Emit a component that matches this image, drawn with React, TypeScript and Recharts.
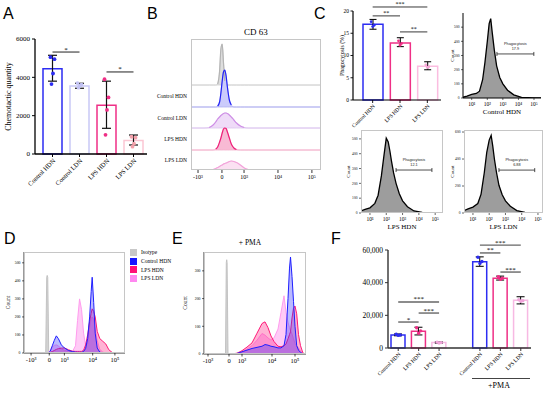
import React from 'react';
import {
  ComposedChart, AreaChart, Area, Bar, Cell, ErrorBar, Line, XAxis, YAxis, ReferenceLine,
} from 'recharts';

const SERIF = '"Liberation Serif", "Times New Roman", Times, serif';
const SANS = '"Liberation Sans", Arial, Helvetica, sans-serif';

/* ---------------- Panel A data ---------------- */
const aCategories = ['Control HDN', 'Control LDN', 'LPS HDN', 'LPS LDN'];
const aMeans = [4450, 3550, 2550, 700];
const aErrLow = [3800, 3430, 1340, 470];
const aErrHigh = [5150, 3690, 3800, 990];
const aPoints1 = [5050, 3700, 3900, 900];
const aPoints2 = [4950, 3620, 2950, 850];
const aPoints3 = [4200, 3560, 2300, 540];
const aPoints4 = [3650, 3460, 1000, 380];
const aYTicks = [0, 2000, 4000, 6000];
const aSigFrom = ['Control HDN', 'LPS HDN'];
const aSigTo = ['Control LDN', 'LPS LDN'];
const aSigY = [5320, 4280];
const aSigText = ['*', '*'];

/* ---------------- Panel B data ---------------- */
const bX = [0, 10, 14, 17, 19, 20.5, 22, 23, 24, 25, 26, 27, 28, 29.5, 31, 33, 35, 38, 41, 44, 50, 70, 100];
const bIsotype = [0, 0, 0, 0, 0, 1, 14, 36, 41, 22, 4, 0, 0, 0, 0, 0, 0, 0, 0, 0, 0, 0, 0];
const bControlHDN = [0, 0, 0, 0, 0, 1, 5, 14, 26, 35, 37, 31, 20, 7, 2, 0, 0, 0, 0, 0, 0, 0, 0];
const bControlLDN = [0, 0, 0.5, 3, 6, 9, 11, 12.5, 13.5, 14.5, 15, 15, 14.5, 13, 11, 8, 5, 2, 0.5, 0, 0, 0, 0];
const bLpsHDN = [0, 0, 0, 0, 1, 3, 8, 12, 17, 21, 22, 21.5, 18, 12, 6, 2, 0.5, 0, 0, 0, 0, 0, 0];
const bLpsLDN = [0, 0, 0, 0.5, 1.5, 2.5, 3.5, 4.5, 5, 6, 6.5, 7, 7.5, 8.5, 9, 8.5, 7.5, 5, 2, 0.5, 0, 0, 0];
const bTicks = [5.4, 23.8, 40.8, 66.9, 93];
const bTickLabels = ['-10³', '0', '10³', '10⁴', '10⁵'];
const bRowLabels = ['Control HDN', 'Control LDN', 'LPS HDN', 'LPS LDN'];
const bRowLabelTicks = [74, 52, 31, 10];

/* ---------------- Panel C data ---------------- */
const cCategories = ['Control HDN', 'LPS HDN', 'LPS LDN'];
const cMeans = [17.0, 12.8, 7.6];
const cErrLow = [15.9, 12.0, 6.8];
const cErrHigh = [18.1, 14.0, 8.6];
const cPoints1 = [17.6, 13.3, 7.9];
const cPoints2 = [16.8, 12.7, 7.5];
const cPoints3 = [16.5, 12.3, 7.3];
const cYTicks = [0, 5, 10, 15, 20];
const cSigFrom = ['Control HDN', 'Control HDN', 'LPS HDN'];
const cSigTo = ['LPS LDN', 'LPS HDN', 'LPS LDN'];
const cSigY = [20.9, 18.9, 15.3];
const cSigText = ['***', '**', '**'];

const hcX = [0.0, 0.4, 0.7, 1.0, 1.3, 1.5, 1.7, 1.85, 2.0, 2.12, 2.22, 2.32, 2.45, 2.6, 2.8, 3.0, 3.3, 3.7, 4.2, 5.0, 5.5];
const hcControlHDN = [0, 4, 14, 26, 32, 48, 129, 251, 398, 525, 560, 460, 340, 227, 145, 100, 55, 22, 4, 0, 0];
const hcLpsHDN = [0, 12, 25, 35, 65, 120, 250, 380, 505, 480, 420, 350, 270, 200, 130, 82, 42, 14, 4, 0, 0];
const hcLpsLDN = [0, 15, 30, 44, 70, 140, 300, 450, 540, 575, 495, 400, 300, 205, 135, 90, 50, 18, 5, 0, 0];
const hcTicks = [1, 2, 3, 4, 5];
const hcTickLabels = ['10¹', '10²', '10³', '10⁴', '10⁵'];

/* ---------------- Panel D data ---------------- */
const dX = [0, 10, 20, 21.5, 22.5, 23, 23.5, 24.5, 26, 28, 30, 32, 34, 37, 40, 44, 48, 51, 53, 55, 57, 59, 61, 63, 65, 66.5, 67.5, 69, 70.5, 72.5, 75, 78, 81, 84, 88, 95, 100];
const dIsotype = [0, 0, 0, 0, 420, 430, 420, 0, 0, 0, 0, 0, 0, 0, 0, 0, 0, 0, 0, 0, 0, 0, 0, 0, 0, 0, 0, 0, 0, 0, 0, 0, 0, 0, 0, 0, 0];
const dControlHDN = [0, 0, 0, 0, 0, 0, 0, 2, 10, 40, 70, 95, 80, 45, 28, 14, 8, 5, 4, 4, 4, 8, 25, 80, 200, 340, 420, 280, 110, 28, 5, 0, 0, 0, 0, 0, 0];
const dLpsHDN = [0, 0, 0, 0, 0, 0, 0, 1, 4, 8, 14, 20, 24, 27, 28, 18, 10, 9, 9, 9, 9, 15, 45, 100, 175, 220, 245, 230, 200, 120, 80, 65, 50, 18, 0, 0, 0];
const dLpsLDN = [0, 0, 0, 0, 0, 0, 0, 5, 15, 35, 42, 45, 40, 22, 15, 9, 9, 40, 180, 300, 240, 110, 40, 50, 140, 190, 200, 185, 130, 70, 20, 5, 0, 0, 0, 0, 0];
const dXTicks = [7, 25, 40, 68, 90];
const dYTicks = [0, 100, 200, 300, 400, 500];
const flowTickLabels = ['-10³', '0', '10³', '10⁴', '10⁵'];
const legendNames = ['Isotype', 'Control HDN', 'LPS HDN', 'LPS LDN'];

/* ---------------- Panel E data ---------------- */
const eX = [0, 10, 21.5, 22.3, 22.7, 23.1, 24, 28, 33, 38, 43, 48, 53, 58, 61, 64, 67, 70, 74, 77, 80, 82, 84, 85.5, 86.5, 88, 89.5, 91, 92.7, 94.5, 96.5, 99, 102];
const eIsotype = [0, 0, 0, 330, 340, 330, 0, 0, 0, 0, 0, 0, 0, 0, 0, 0, 0, 0, 0, 0, 0, 0, 0, 0, 0, 0, 0, 0, 0, 0, 0, 0, 0];
const eControlHDN = [0, 0, 0, 0, 0, 0, 0, 0, 2, 8, 14, 20, 24, 28, 34, 32, 28, 26, 22, 22, 30, 70, 200, 310, 350, 280, 190, 100, 30, 14, 6, 0, 0];
const eLpsHDN = [0, 0, 0, 0, 0, 0, 0, 0, 3, 12, 25, 40, 75, 110, 116, 95, 65, 45, 28, 26, 30, 36, 55, 70, 80, 130, 165, 173, 145, 70, 30, 3, 0];
const eLpsLDN = [0, 0, 0, 0, 0, 0, 0, 0, 1, 7, 18, 30, 50, 74, 68, 58, 50, 58, 90, 150, 210, 150, 115, 95, 85, 72, 55, 38, 30, 22, 12, 0, 0];
const eXTicks = [4, 25, 38, 68, 91];
const eYTicks = [0, 100, 200, 300];

/* ---------------- Panel F data ---------------- */
const fKeys = ['c1', 'l1', 'd1', 'gap', 'c2', 'l2', 'd2'];
const fLabels = ['Control HDN', 'LPS HDN', 'LPS LDN', '', 'Control HDN', 'LPS HDN', 'LPS LDN'];
const fMeans = [8000, 10200, 3300, null, 52800, 42700, 29300];
const fErrLow = [7500, 8000, 3000, null, 50000, 41600, 27000];
const fErrHigh = [8600, 12700, 3700, null, 55800, 44000, 31400];
const fPoints1 = [8400, 12400, 3600, null, 55600, 43600, 29500];
const fPoints2 = [8000, 10500, 3300, null, 53000, 42700, 29000];
const fPoints3 = [7700, 9000, 3100, null, 51800, 42000, 28600];
const fYTicks = [0, 20000, 40000, 60000];
const fTickKeys = ['c1', 'l1', 'd1', 'c2', 'l2', 'd2'];
const fSigFrom = ['c1', 'c1', 'l1', 'c2', 'c2', 'l2'];
const fSigTo = ['d1', 'l1', 'd1', 'd2', 'l2', 'd2'];
const fSigY = [28200, 15900, 21400, 63000, 58200, 46500];
const fSigText = ['***', '*', '***', '***', '**', '***'];

/* ---------------- styles ---------------- */
const BLUE = '#2d2df2';
const PINK = '#ef2f86';
const aBarColors = [BLUE, '#c9c9f6', PINK, '#fbc6d3'];
const aDotColors = [BLUE, '#c2c2f3', PINK, '#f3a0aa'];
const cBarColors = [BLUE, PINK, '#fbbde0'];
const cDotColors = [BLUE, PINK, '#f6a8d6'];
const fBarColors = [BLUE, PINK, '#f7b9e3', '#fff', BLUE, PINK, '#f7b9e3'];
const fDotColors = [BLUE, PINK, '#f1a4da', '#fff', BLUE, PINK, '#f1a4da'];

const flowSeries = [
  { key: 'iso', fill: '#d2d2d2', stroke: '#c2c2c2' },
  { key: 'lldn', fill: 'rgba(255,140,235,0.45)', stroke: '#ff9cee' },
  { key: 'lhdn', fill: 'rgba(255,25,125,0.33)', stroke: '#ff1a78' },
  { key: 'chdn', fill: 'rgba(45,45,255,0.33)', stroke: '#1f1fff' },
];
const legendColors = ['#c8c8c8', '#1515ff', '#ff1177', '#ff88f0'];

const bRows = [
  { key: 'iso', values: bIsotype, base: 85, fill: '#dedede', edge: '#d0d0d0', line: '#b4b4b4' },
  { key: 'chdn', values: bControlHDN, base: 63, fill: '#cbcbfb', edge: '#b1b1f0', line: '#2323f5' },
  { key: 'cldn', values: bControlLDN, base: 42, fill: '#efdbf8', edge: '#dcc4ef', line: '#cf8fe6' },
  { key: 'lhdn', values: bLpsHDN, base: 20, fill: '#f8bad4', edge: '#f4b0cc', line: '#ee1f79' },
  { key: 'lldn', values: bLpsLDN, base: 0, fill: '#fbe1f2', edge: '#f6cbe7', line: '#f2a3da' },
];

/* ---------------- built tables ---------------- */
const aData = aCategories.map((c, i) => ({
  cat: c, mean: aMeans[i], err: [aMeans[i] - aErrLow[i], aErrHigh[i] - aMeans[i]],
  p1: aPoints1[i], p2: aPoints2[i], p3: aPoints3[i], p4: aPoints4[i],
}));
const cData = cCategories.map((c, i) => ({
  cat: c, mean: cMeans[i], err: [cMeans[i] - cErrLow[i], cErrHigh[i] - cMeans[i]],
  p1: cPoints1[i], p2: cPoints2[i], p3: cPoints3[i],
}));
const fData = fKeys.map((k, i) => ({
  key: k, mean: fMeans[i],
  err: fMeans[i] == null ? [0, 0] : [(fMeans[i] as number) - (fErrLow[i] as number), (fErrHigh[i] as number) - (fMeans[i] as number)],
  p1: fPoints1[i], p2: fPoints2[i], p3: fPoints3[i],
}));
const bData = bX.map((x, i) => {
  const o: any = { x };
  bRows.forEach((r) => { o[r.key] = r.values[i]; });
  return o;
});
const dData = dX.map((x, i) => ({ x, iso: dIsotype[i], chdn: dControlHDN[i], lhdn: dLpsHDN[i], lldn: dLpsLDN[i] }));
const eData = eX.map((x, i) => ({ x, iso: eIsotype[i], chdn: eControlHDN[i], lhdn: eLpsHDN[i], lldn: eLpsLDN[i] }));

/* ---------------- helpers ---------------- */
const makeDot = (colors: string[], dx: number, r: number) => (props: any) => {
  const { cx, cy, index, value } = props;
  if (cx == null || cy == null || value == null || Number.isNaN(cy)) return <g key={`e-${dx}-${index}`} />;
  return <circle key={`d-${dx}-${index}`} cx={cx + dx} cy={cy} r={r} fill={colors[index]} stroke="none" />;
};

const sigLines = (from: string[], to: string[], ys: number[], texts: string[], color: string, width: number, fontSize: number) =>
  from.map((f, i) => (
    <ReferenceLine
      key={`sig-${i}`}
      segment={[{ x: f, y: ys[i] }, { x: to[i], y: ys[i] }]}
      stroke={color}
      strokeWidth={width}
      ifOverflow="visible"
      label={{ value: texts[i], position: 'top', offset: 0.5, fontSize, fill: '#000', fontFamily: SERIF }}
    />
  ));

const GateMark = (props: any) => {
  const { viewBox, gateValue } = props;
  if (!viewBox) return null;
  const { x, y, width } = viewBox;
  const cx = x + width / 2;
  return (
    <g>
      <line x1={x} x2={x} y1={y - 2} y2={y + 2} stroke="#222" strokeWidth={0.8} />
      <line x1={x + width} x2={x + width} y1={y - 2} y2={y + 2} stroke="#222" strokeWidth={0.8} />
      <text x={cx} y={y - 9} textAnchor="middle" fontSize={3.8} fontFamily={SANS} fill="#222">Phagocytosis</text>
      <text x={cx} y={y - 4.2} textAnchor="middle" fontSize={3.8} fontFamily={SANS} fill="#222">{gateValue}</text>
    </g>
  );
};

const BRowTick = (p: any) => (
  <text x={p.x} y={p.y} dy={2} textAnchor="end" fontSize={5.5} fontFamily={SERIF} fill="#000">
    {bRowLabels[bRowLabelTicks.indexOf(p.payload.value)]}
  </text>
);

const PanelLetter = ({ text, x, y }: { text: string; x: number; y: number }) => (
  <div style={{ position: 'absolute', left: x, top: y, fontFamily: SANS, fontSize: 16, lineHeight: '16px', color: '#000' }}>{text}</div>
);

const Frame = ({ left, top, width, height }: any) => (
  <div style={{ position: 'absolute', left, top, width, height, border: '1px solid #c6c6c6', boxSizing: 'border-box', pointerEvents: 'none' }} />
);

function FlowHist(props: any) {
  const { left, top, width, height, yAxisWidth, counts, xDomain, yDomain, yTicks, gateY, gateFrom, gateTo, gateValue, title, framed, countDx } = props;
  const data = hcX.map((x, i) => ({ x, count: counts[i] }));
  const mTop = 8;
  const mRight = 2;
  const xh = 20;
  const plotW = width - yAxisWidth - mRight;
  return (
    <div style={{ position: 'absolute', left, top }}>
      <AreaChart width={width} height={height} data={data} margin={{ top: mTop, right: mRight, left: 0, bottom: 0 }}>
        <XAxis
          type="number" dataKey="x" domain={xDomain} allowDataOverflow ticks={hcTicks} interval={0}
          tickFormatter={(v: number) => hcTickLabels[hcTicks.indexOf(v)]}
          height={xh} tickSize={2} tickMargin={2}
          tick={{ fontSize: 5.5, fontFamily: SERIF, fill: '#000' }}
          axisLine={framed ? false : { stroke: '#000', strokeWidth: 1 }}
          tickLine={{ stroke: '#000', strokeWidth: 0.6 }}
        />
        <YAxis
          type="number" domain={yDomain} allowDataOverflow ticks={yTicks} interval={0} width={yAxisWidth}
          tickSize={2} tickMargin={1.5}
          tick={{ fontSize: 3.6, fontFamily: SERIF, fill: '#000' }}
          axisLine={framed ? false : { stroke: '#000', strokeWidth: 1 }}
          tickLine={{ stroke: '#000', strokeWidth: 0.6 }}
          label={{ value: 'Count', angle: -90, position: 'center', dx: countDx, fontSize: 5, fontFamily: SERIF, fill: '#000' }}
        />
        <Area type="linear" dataKey="count" fill="#9d9d9d" fillOpacity={1} stroke="#000" strokeWidth={1.3} isAnimationActive={false} />
        <ReferenceLine
          segment={[{ x: gateFrom, y: gateY }, { x: gateTo, y: gateY }]}
          stroke="#222" strokeWidth={0.8} ifOverflow="visible"
          label={<GateMark gateValue={gateValue} />}
        />
      </AreaChart>
      {framed && <Frame left={yAxisWidth} top={mTop} width={plotW} height={height - mTop - xh} />}
      <div style={{ position: 'absolute', left: yAxisWidth, top: height - 10, width: plotW, textAlign: 'center', fontFamily: SERIF, fontSize: 7, lineHeight: '9px', whiteSpace: 'nowrap' }}>{title}</div>
    </div>
  );
}

function OverlayHist(props: any) {
  const { left, top, width, height, yAxisWidth, data, xDomain, yDomain, xTicks, yTicks, countDx } = props;
  const mTop = 12;
  const mRight = 1;
  const xh = 20;
  return (
    <div style={{ position: 'absolute', left, top }}>
      <AreaChart width={width} height={height} data={data} margin={{ top: mTop, right: mRight, left: 0, bottom: 0 }}>
        <XAxis
          type="number" dataKey="x" domain={xDomain} allowDataOverflow ticks={xTicks} interval={0}
          tickFormatter={(v: number) => flowTickLabels[xTicks.indexOf(v)]}
          height={xh} tickSize={2.5} tickMargin={2}
          tick={{ fontSize: 6.5, fontFamily: SERIF, fill: '#000' }}
          axisLine={{ stroke: '#000', strokeWidth: 0.8 }}
          tickLine={{ stroke: '#000', strokeWidth: 0.7 }}
        />
        <YAxis
          type="number" domain={yDomain} allowDataOverflow ticks={yTicks} interval={0} width={yAxisWidth}
          tickSize={2} tickMargin={1.5}
          tick={{ fontSize: 3.8, fontFamily: SERIF, fill: '#000' }}
          axisLine={{ stroke: '#000', strokeWidth: 0.8 }}
          tickLine={{ stroke: '#000', strokeWidth: 0.6 }}
          label={{ value: 'Count', angle: -90, position: 'center', dx: countDx, fontSize: 5.5, fontFamily: SERIF, fill: '#000' }}
        />
        {flowSeries.map((s) => (
          <Area key={s.key} type="linear" dataKey={s.key} fill={s.fill} fillOpacity={1} stroke={s.stroke} strokeWidth={1} isAnimationActive={false} />
        ))}
      </AreaChart>
      <Frame left={yAxisWidth} top={mTop} width={width - yAxisWidth - mRight} height={height - mTop - xh} />
    </div>
  );
}

/* ---------------- App ---------------- */
export default function App() {
  const axisTick = (fs: number) => ({ fontSize: fs, fontFamily: SERIF, fill: '#000' });
  return (
    <div style={{ position: 'absolute', left: 0, top: 0, width: 550, height: 393, background: '#fff', overflow: 'hidden', fontFamily: SERIF }}>
      <PanelLetter text="A" x={3} y={6} />
      <PanelLetter text="B" x={147} y={6} />
      <PanelLetter text="C" x={314} y={6} />
      <PanelLetter text="D" x={4} y={231} />
      <PanelLetter text="E" x={172} y={231} />
      <PanelLetter text="F" x={331} y={231} />

      {/* Panel A */}
      <div style={{ position: 'absolute', left: 0, top: 0 }}>
        <ComposedChart width={150} height={200} data={aData} margin={{ top: 39, right: 3, left: 0, bottom: 0 }}>
          <XAxis dataKey="cat" height={46} interval={0} padding={{ left: 4, right: 0 }} angle={-45} textAnchor="end"
            tick={axisTick(6.5)} tickSize={3} tickMargin={1}
            axisLine={{ stroke: '#000', strokeWidth: 1.3 }} tickLine={{ stroke: '#000', strokeWidth: 1 }} />
          <YAxis width={35} domain={[0, 6000]} ticks={aYTicks} interval={0} tick={axisTick(7)} tickSize={3} tickMargin={2}
            axisLine={{ stroke: '#000', strokeWidth: 1.3 }} tickLine={{ stroke: '#000', strokeWidth: 1 }}
            label={{ value: 'Chemotactic quantity', angle: -90, position: 'center', dx: -9.5, fontSize: 8, fontFamily: SERIF, fill: '#000' }} />
          <Bar dataKey="mean" barSize={19} isAnimationActive={false}>
            {aData.map((d, i) => <Cell key={`a-${i}`} fill="#fff" stroke={aBarColors[i]} strokeWidth={1.5} />)}
            <ErrorBar dataKey="err" width={4.5} stroke="#111" strokeWidth={1.2} />
          </Bar>
          <Line dataKey="p1" stroke="none" isAnimationActive={false} dot={makeDot(aDotColors, -2, 1.9)} activeDot={false} />
          <Line dataKey="p2" stroke="none" isAnimationActive={false} dot={makeDot(aDotColors, 2, 1.9)} activeDot={false} />
          <Line dataKey="p3" stroke="none" isAnimationActive={false} dot={makeDot(aDotColors, 0.5, 1.9)} activeDot={false} />
          <Line dataKey="p4" stroke="none" isAnimationActive={false} dot={makeDot(aDotColors, -1, 1.9)} activeDot={false} />
          {sigLines(aSigFrom, aSigTo, aSigY, aSigText, '#222', 1, 7)}
        </ComposedChart>
      </div>

      {/* Panel B */}
      <div style={{ position: 'absolute', left: 236, top: 26, width: 40, textAlign: 'center', fontFamily: SERIF, fontSize: 9, lineHeight: '12px', whiteSpace: 'nowrap' }}>CD 63</div>
      <div style={{ position: 'absolute', left: 130, top: 0 }}>
        <AreaChart width={195} height={200} data={bData} margin={{ top: 39, right: 4, left: 0, bottom: 0 }}>
          <XAxis type="number" dataKey="x" domain={[0, 100]} allowDataOverflow ticks={bTicks} interval={0}
            tickFormatter={(v: number) => bTickLabels[bTicks.indexOf(v)]}
            height={30} tickSize={3} tickMargin={2} tick={axisTick(6)} axisLine={false}
            tickLine={{ stroke: '#000', strokeWidth: 0.8 }} />
          <YAxis type="number" domain={[0, 131]} allowDataOverflow ticks={bRowLabelTicks} interval={0}
            width={61} tickSize={2} tickMargin={2} axisLine={false} tickLine={false} tick={<BRowTick />} />
          {bRows.map((r) => (
            <Area key={`ba-${r.key}`} type="monotone" dataKey={(d: any) => [r.base, r.base + d[r.key]]}
              fill={r.fill} fillOpacity={1} stroke={r.edge} strokeWidth={0.8} isAnimationActive={false} />
          ))}
          {bRows.map((r) => (
            <Line key={`bl-${r.key}`} type="monotone" dataKey={(d: any) => (d[r.key] > 0 ? r.base + d[r.key] : null)}
              stroke={r.line} strokeWidth={1.2} dot={false} activeDot={false} isAnimationActive={false} />
          ))}
        </AreaChart>
        <Frame left={61} top={39} width={130} height={131} />
      </div>

      {/* Panel C bar */}
      <div style={{ position: 'absolute', left: 320, top: 0 }}>
        <ComposedChart width={125} height={150} data={cData} margin={{ top: 11, right: 4, left: 0, bottom: 0 }}>
          <XAxis dataKey="cat" height={50} interval={0} padding={{ left: 6, right: 0 }} angle={-45} textAnchor="end"
            tick={axisTick(5.5)} tickSize={3} tickMargin={1}
            axisLine={{ stroke: '#000', strokeWidth: 1.2 }} tickLine={{ stroke: '#000', strokeWidth: 0.9 }} />
          <YAxis width={33} domain={[0, 20]} ticks={cYTicks} interval={0} tick={axisTick(5.5)} tickSize={2.5} tickMargin={1.5}
            axisLine={{ stroke: '#000', strokeWidth: 1.2 }} tickLine={{ stroke: '#000', strokeWidth: 0.9 }}
            label={{ value: 'Phagocytosis (%)', angle: -90, position: 'center', dx: 5, fontSize: 5.8, fontFamily: SERIF, fill: '#000' }} />
          <Bar dataKey="mean" barSize={20} isAnimationActive={false}>
            {cData.map((d, i) => <Cell key={`c-${i}`} fill="#fff" stroke={cBarColors[i]} strokeWidth={1.5} />)}
            <ErrorBar dataKey="err" width={3.5} stroke="#111" strokeWidth={1.1} />
          </Bar>
          <Line dataKey="p1" stroke="none" isAnimationActive={false} dot={makeDot(cDotColors, -1.5, 1.4)} activeDot={false} />
          <Line dataKey="p2" stroke="none" isAnimationActive={false} dot={makeDot(cDotColors, 1.5, 1.4)} activeDot={false} />
          <Line dataKey="p3" stroke="none" isAnimationActive={false} dot={makeDot(cDotColors, 0, 1.4)} activeDot={false} />
          {sigLines(cSigFrom, cSigTo, cSigY, cSigText, '#222', 0.9, 6)}
        </ComposedChart>
      </div>

      <FlowHist left={430} top={5} width={113} height={113} yAxisWidth={33} counts={hcControlHDN}
        xDomain={[0.44, 5.45]} yDomain={[0, 600]} yTicks={[0, 100, 200, 300, 400, 500]}
        gateY={311} gateFrom={2.62} gateTo={4.99} gateValue="17.9" title="Control HDN" framed={false} countDx={5.5} />
      <FlowHist left={335} top={122} width={110} height={111} yAxisWidth={26} counts={hcLpsHDN}
        xDomain={[0.45, 5.48]} yDomain={[0, 560]} yTicks={[0, 100, 200, 300, 400, 500]}
        gateY={290} gateFrom={2.6} gateTo={4.8} gateValue="12.1" title="LPS HDN" framed countDx={0} />
      <FlowHist left={430} top={122} width={115} height={111} yAxisWidth={34} counts={hcLpsLDN}
        xDomain={[0.45, 5.31]} yDomain={[0, 615]} yTicks={[0, 200, 400, 600]}
        gateY={318} gateFrom={2.6} gateTo={4.8} gateValue="6.88" title="LPS LDN" framed countDx={5} />

      {/* Panel D */}
      <OverlayHist left={0} top={240} width={126} height={133} yAxisWidth={24} data={dData}
        xDomain={[0, 100]} yDomain={[0, 560]} xTicks={dXTicks} yTicks={dYTicks} countDx={-4} />
      <div style={{ position: 'absolute', left: 130, top: 248, fontFamily: SERIF, fontSize: 5.5, lineHeight: '8.8px' }}>
        {legendNames.map((n, i) => (
          <div key={n} style={{ display: 'flex', alignItems: 'center', height: 8.8, whiteSpace: 'nowrap' }}>
            <span style={{ display: 'inline-block', width: 7, height: 7, background: legendColors[i], marginRight: 4 }} />
            <span>{n}</span>
          </div>
        ))}
      </div>

      {/* Panel E */}
      <div style={{ position: 'absolute', left: 230, top: 238, width: 40, textAlign: 'center', fontFamily: SERIF, fontSize: 7.5, lineHeight: '10px', whiteSpace: 'nowrap' }}>+ PMA</div>
      <OverlayHist left={180} top={240} width={127} height={134} yAxisWidth={24} data={eData}
        xDomain={[0, 102]} yDomain={[0, 368]} xTicks={eXTicks} yTicks={eYTicks} countDx={-7} />

      {/* Panel F */}
      <div style={{ position: 'absolute', left: 340, top: 240 }}>
        <ComposedChart width={193} height={148} data={fData} margin={{ top: 10, right: 2, left: 0, bottom: 0 }}>
          <XAxis dataKey="key" height={40} interval={0} ticks={fTickKeys} angle={-45} textAnchor="end"
            tickFormatter={(k: string) => fLabels[fKeys.indexOf(k)]}
            tick={axisTick(5.5)} tickSize={3} tickMargin={1}
            axisLine={{ stroke: '#333', strokeWidth: 1.4 }} tickLine={{ stroke: '#333', strokeWidth: 1 }} />
          <YAxis width={48} domain={[0, 60000]} ticks={fYTicks} interval={0}
            tickFormatter={(v: number) => v.toLocaleString('en-US')}
            tick={axisTick(7.5)} tickSize={3} tickMargin={2}
            axisLine={{ stroke: '#333', strokeWidth: 1.4 }} tickLine={{ stroke: '#333', strokeWidth: 1 }} />
          <Bar dataKey="mean" barSize={14} isAnimationActive={false}>
            {fData.map((d, i) => <Cell key={`f-${i}`} fill="#fff" stroke={fBarColors[i]} strokeWidth={1.5} />)}
            <ErrorBar dataKey="err" width={4} stroke="#111" strokeWidth={1.1} />
          </Bar>
          <Line dataKey="p1" stroke="none" isAnimationActive={false} dot={makeDot(fDotColors, -2, 1.7)} activeDot={false} />
          <Line dataKey="p2" stroke="none" isAnimationActive={false} dot={makeDot(fDotColors, 2, 1.7)} activeDot={false} />
          <Line dataKey="p3" stroke="none" isAnimationActive={false} dot={makeDot(fDotColors, 0, 1.7)} activeDot={false} />
          {sigLines(fSigFrom, fSigTo, fSigY, fSigText, '#666', 1.4, 7)}
        </ComposedChart>
      </div>
      <div style={{ position: 'absolute', left: 472, top: 378, width: 58, borderTop: '1.5px solid #444' }} />
      <div style={{ position: 'absolute', left: 480, top: 381, width: 38, textAlign: 'center', fontFamily: SERIF, fontSize: 8, lineHeight: '10px' }}>+PMA</div>
    </div>
  );
}
